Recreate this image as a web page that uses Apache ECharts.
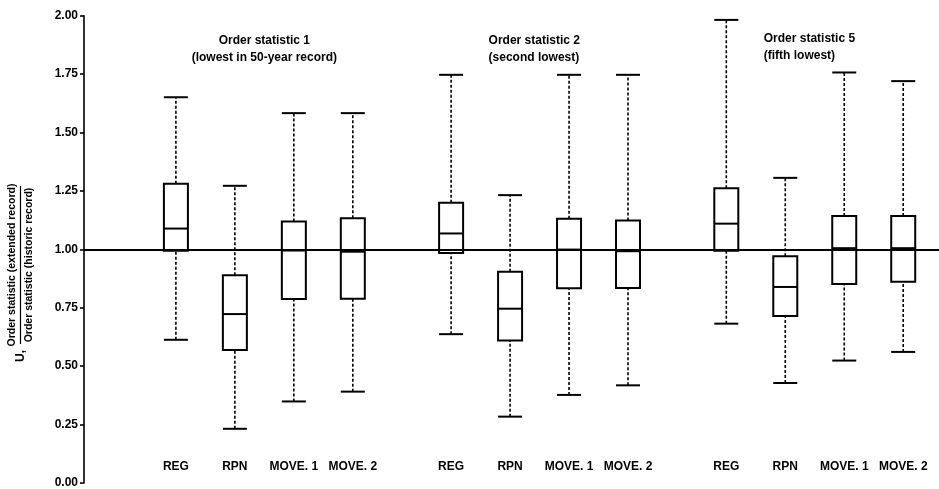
<!DOCTYPE html>
<html>
<head>
<meta charset="utf-8">
<script src="https://cdn.jsdelivr.net/npm/echarts@6/dist/echarts.min.js"></script>
<style>
html,body{margin:0;padding:0;background:#fff;}
#chart{width:939px;height:489px;}
</style>
</head>
<body>
<div id="chart"></div>
<script>
// ---- data ----
const groupTitles = [
  ['Order statistic 1', '(lowest in 50-year record)'],
  ['Order statistic 2', '(second lowest)'],
  ['Order statistic 5', '(fifth lowest)']
];
const methods = ['REG', 'RPN', 'MOVE. 1', 'MOVE. 2'];
// each box: [lower whisker, Q1, median, Q3, upper whisker]
const os1 = [
  [0.613, 0.994, 1.089, 1.281, 1.651],
  [0.232, 0.569, 0.723, 0.889, 1.272],
  [0.349, 0.788, 0.995, 1.119, 1.583],
  [0.391, 0.789, 0.990, 1.133, 1.583]
];
const os2 = [
  [0.637, 0.984, 1.068, 1.199, 1.747],
  [0.284, 0.610, 0.746, 0.904, 1.232],
  [0.377, 0.833, 0.999, 1.131, 1.747],
  [0.418, 0.835, 0.992, 1.124, 1.747]
];
const os5 = [
  [0.682, 0.994, 1.110, 1.261, 1.982],
  [0.428, 0.715, 0.839, 0.970, 1.306],
  [0.524, 0.852, 1.005, 1.143, 1.757],
  [0.561, 0.861, 1.005, 1.143, 1.720]
];
const yTicks = ['0.00', '0.25', '0.50', '0.75', '1.00', '1.25', '1.50', '1.75', '2.00'];
const refValue = 1.0;

// ---- layout ----
const groupsData = [os1, os2, os5];
const SLOT = 3, GROUP_STEP = 14;
const boxData = [];
groupsData.forEach((g, gi) => {
  g.forEach((b, i) => {
    boxData.push([gi * GROUP_STEP + i * SLOT].concat(b).concat([methods[i]]));
  });
});
const titleData = groupTitles.map((t, gi) => [gi * GROUP_STEP + 1.5 * SLOT, 2.0, gi]);

const FONT = 'bold 12px "Liberation Sans", Arial, sans-serif';
const BOX_W = 24;

function renderBox(params, api) {
  const x = api.value(0);
  const lo = api.coord([x, api.value(1)]);
  const q1 = api.coord([x, api.value(2)]);
  const md = api.coord([x, api.value(3)]);
  const q3 = api.coord([x, api.value(4)]);
  const hi = api.coord([x, api.value(5)]);
  const cx = lo[0], h = BOX_W / 2;
  const label = boxData[params.dataIndex][6];
  const solid = {stroke: '#000', lineWidth: 2, fill: null};
  const dash = {stroke: '#000', lineWidth: 1.6, lineDash: [3, 2], fill: null};
  return {
    type: 'group',
    children: [
      {type: 'line', shape: {x1: cx, y1: q3[1], x2: cx, y2: hi[1]}, style: dash},
      {type: 'line', shape: {x1: cx, y1: lo[1], x2: cx, y2: q1[1]}, style: dash},
      {type: 'line', shape: {x1: cx - h, y1: hi[1], x2: cx + h, y2: hi[1]}, style: solid},
      {type: 'line', shape: {x1: cx - h, y1: lo[1], x2: cx + h, y2: lo[1]}, style: solid},
      {type: 'rect', shape: {x: cx - h, y: q3[1], width: BOX_W, height: q1[1] - q3[1]}, style: solid},
      {type: 'line', shape: {x1: cx - h, y1: md[1], x2: cx + h, y2: md[1]}, style: solid},
      {type: 'text', style: {text: label, x: cx, y: 467, align: 'center', verticalAlign: 'middle',
        textAlign: 'center', textVerticalAlign: 'middle', font: FONT, fill: '#000'}}
    ]
  };
}

function renderTitle(params, api) {
  const x = api.value(0);
  const gi = api.value(2);
  const p = api.coord([x, 2.0]);
  const lines = groupTitles[gi];
  const yTop = gi === 2 ? 39 : 41;
  if (gi === 0) {
    return {type: 'group', children: lines.map((t, k) => ({
      type: 'text', style: {text: t, x: p[0], y: yTop + k * 17, align: 'center', verticalAlign: 'middle',
        textAlign: 'center', textVerticalAlign: 'middle', font: FONT, fill: '#000'}}))};
  }
  return {type: 'group', children: lines.map((t, k) => ({
    type: 'text', style: {text: t, x: p[0] - 51, y: yTop + k * 17, align: 'left', verticalAlign: 'middle',
      textAlign: 'left', textVerticalAlign: 'middle', font: FONT, fill: '#000'}}))};
}

const chart = echarts.init(document.getElementById('chart'), null, {renderer: 'canvas'});
const yFont = 'bold 10.5px "Liberation Sans", Arial, sans-serif';
chart.setOption({
  animation: false,
  backgroundColor: '#fff',
  grid: {left: 84, right: 0, top: 15.7, bottom: 1, containLabel: false},
  xAxis: {type: 'value', min: -4.675, max: 38.82, show: false},
  yAxis: {
    type: 'value', min: 0, max: 2, interval: 0.25,
    axisLine: {show: true, onZero: false, lineStyle: {color: '#000', width: 1.6}},
    axisTick: {show: true, length: 4, lineStyle: {color: '#000', width: 1.6}},
    splitLine: {show: false},
    axisLabel: {
      formatter: v => yTicks[Math.round(v / 0.25)],
      color: '#000', fontWeight: 'bold', fontSize: 12, fontFamily: '"Liberation Sans", Arial, sans-serif', margin: 6
    }
  },
  graphic: [
    {type: 'text', rotation: Math.PI / 2, x: 12, y: 265,
      style: {text: 'Order statistic (extended record)', align: 'center', verticalAlign: 'middle', font: yFont, fill: '#000'}},
    {type: 'line', shape: {x1: 20.5, y1: 186, x2: 20.5, y2: 344}, style: {stroke: '#000', lineWidth: 1.2}},
    {type: 'text', rotation: Math.PI / 2, x: 29, y: 265,
      style: {text: 'Order statistic (historic record)', align: 'center', verticalAlign: 'middle', font: yFont, fill: '#000'}},
    {type: 'text', rotation: Math.PI / 2, x: 21, y: 356,
      style: {text: 'U,', align: 'center', verticalAlign: 'middle', font: 'bold 12px "Liberation Sans", Arial, sans-serif', fill: '#000'}}
  ],
  series: [
    {
      type: 'custom', name: 'boxes', data: boxData, renderItem: renderBox, clip: false,
      encode: {x: 0, y: [1, 2, 3, 4, 5]},
      markLine: {
        silent: true, symbol: 'none', label: {show: false},
        lineStyle: {color: '#000', width: 2, type: 'solid'},
        data: [{yAxis: refValue}]
      }
    },
    {type: 'custom', name: 'titles', data: titleData, renderItem: renderTitle, clip: false, encode: {x: 0, y: 1}}
  ]
});
</script>
</body>
</html>
